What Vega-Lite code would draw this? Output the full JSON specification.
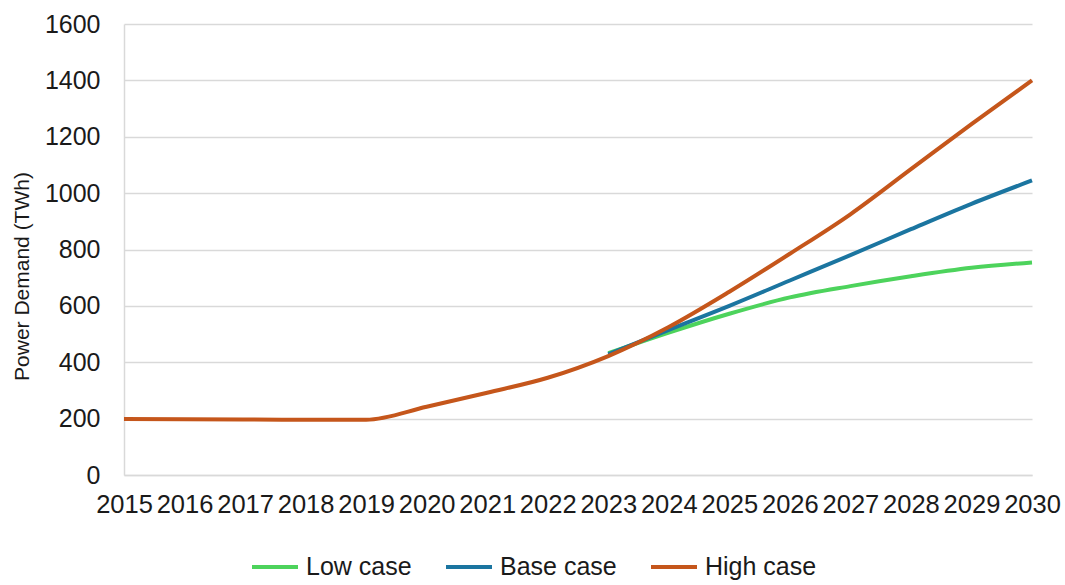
{
  "$schema": "https://vega.github.io/schema/vega-lite/v6.json",
  "width": 908,
  "height": 451,
  "autosize": {"type": "none"},
  "padding": {"left": 124, "top": 24, "right": 33, "bottom": 110},
  "background": "white",
  "config": {
    "font": "Liberation Sans",
    "view": {"stroke": null},
    "axis": {"labelColor": "#1a1a1a", "titleColor": "#1a1a1a", "labelFont": "Liberation Sans", "titleFont": "Liberation Sans"}
  },
  "data": {
    "values": [
      {"year": 2023, "series": "Low case", "demand": 432},
      {"year": 2024, "series": "Low case", "demand": 505},
      {"year": 2025, "series": "Low case", "demand": 572},
      {"year": 2026, "series": "Low case", "demand": 630},
      {"year": 2027, "series": "Low case", "demand": 670},
      {"year": 2028, "series": "Low case", "demand": 705},
      {"year": 2029, "series": "Low case", "demand": 735},
      {"year": 2030, "series": "Low case", "demand": 754},
      {"year": 2023, "series": "Base case", "demand": 428},
      {"year": 2024, "series": "Base case", "demand": 515},
      {"year": 2025, "series": "Base case", "demand": 600},
      {"year": 2026, "series": "Base case", "demand": 690},
      {"year": 2027, "series": "Base case", "demand": 780},
      {"year": 2028, "series": "Base case", "demand": 872},
      {"year": 2029, "series": "Base case", "demand": 962},
      {"year": 2030, "series": "Base case", "demand": 1045},
      {"year": 2015, "series": "High case", "demand": 199},
      {"year": 2016, "series": "High case", "demand": 198},
      {"year": 2017, "series": "High case", "demand": 197},
      {"year": 2018, "series": "High case", "demand": 196},
      {"year": 2019, "series": "High case", "demand": 196},
      {"year": 2020, "series": "High case", "demand": 242},
      {"year": 2021, "series": "High case", "demand": 292},
      {"year": 2022, "series": "High case", "demand": 345},
      {"year": 2023, "series": "High case", "demand": 422},
      {"year": 2024, "series": "High case", "demand": 525},
      {"year": 2025, "series": "High case", "demand": 650},
      {"year": 2026, "series": "High case", "demand": 785},
      {"year": 2027, "series": "High case", "demand": 925},
      {"year": 2028, "series": "High case", "demand": 1085},
      {"year": 2029, "series": "High case", "demand": 1245},
      {"year": 2030, "series": "High case", "demand": 1400}
    ]
  },
  "encoding": {
    "x": {
      "field": "year",
      "type": "quantitative",
      "scale": {"domain": [2015, 2030], "nice": false, "zero": false},
      "axis": {
        "title": null,
        "values": [2015, 2016, 2017, 2018, 2019, 2020, 2021, 2022, 2023, 2024, 2025, 2026, 2027, 2028, 2029, 2030],
        "format": "d",
        "labelFontSize": 25.5,
        "labelPadding": 17,
        "labelOverlap": false,
        "labelFlush": false,
        "labelBound": false,
        "ticks": false,
        "tickSize": 0,
        "grid": false,
        "domainColor": "#d9d9d9",
        "domainWidth": 1.5
      }
    },
    "y": {
      "field": "demand",
      "type": "quantitative",
      "scale": {"domain": [0, 1600], "nice": false},
      "axis": {
        "title": "Power Demand (TWh)",
        "values": [0, 200, 400, 600, 800, 1000, 1200, 1400, 1600],
        "format": "d",
        "labelFontSize": 25,
        "labelPadding": 24,
        "labelOverlap": false,
        "ticks": false,
        "tickSize": 0,
        "titleFontSize": 21,
        "titleFontWeight": "normal",
        "titleX": -92,
        "titleY": 252,
        "gridColor": "#d9d9d9",
        "gridWidth": 1.5,
        "domainColor": "#d9d9d9",
        "domainWidth": 1.5
      }
    },
    "color": {
      "field": "series",
      "type": "nominal",
      "scale": {"domain": ["Low case", "Base case", "High case"], "range": ["#4dd35c", "#1b75a0", "#c5561b"]},
      "legend": {
        "title": null,
        "orient": "none",
        "direction": "horizontal",
        "legendX": 126,
        "legendY": 518,
        "symbolType": "stroke",
        "symbolSize": 2116,
        "symbolStrokeWidth": 4,
        "labelFontSize": 25,
        "labelColor": "#1a1a1a",
        "labelOffset": 6,
        "columnPadding": 26,
        "padding": 0
      }
    }
  },
  "layer": [
    {
      "transform": [{"filter": "datum.series === 'Low case'"}],
      "mark": {"type": "line", "strokeWidth": 4, "interpolate": "monotone"}
    },
    {
      "transform": [{"filter": "datum.series === 'Base case'"}],
      "mark": {"type": "line", "strokeWidth": 4, "interpolate": "monotone"}
    },
    {
      "transform": [{"filter": "datum.series === 'High case'"}],
      "mark": {"type": "line", "strokeWidth": 4, "interpolate": "monotone"}
    }
  ]
}
